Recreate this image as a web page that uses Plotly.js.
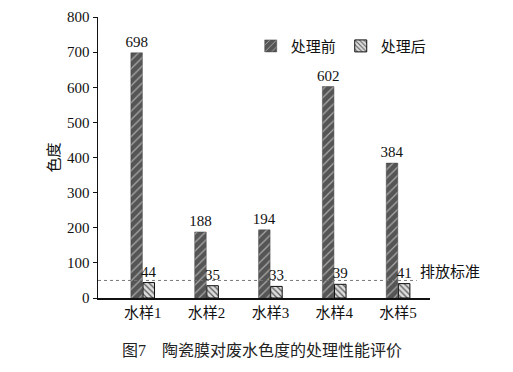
<!DOCTYPE html>
<html><head><meta charset="utf-8">
<script src="https://cdn.plot.ly/plotly-3.0.1.min.js"></script>
<style>body{margin:0;background:#fff}#c{width:513px;height:372px}</style>
</head><body><div id="c"></div>
<script>
const categories = ["水样1","水样2","水样3","水样4","水样5"];
const before = [698,188,194,602,384];
const after = [44,35,33,39,41];
const standard = 50;
const seriesNames = ["处理前","处理后"];
const F = "Liberation Serif, Times New Roman, Noto Sans CJK SC, serif";

const traces = [
  {type:'bar', name:seriesNames[0], x:categories, y:before, text:before.map(String),
   textposition:'outside', cliponaxis:false, constraintext:'none',
   textfont:{family:F,size:15,color:'#111'}, outsidetextfont:{family:F,size:15,color:'#111'},
   marker:{color:'#555', line:{color:'#444',width:0.5},
     pattern:{shape:'/', fgcolor:'#aaa', bgcolor:'#555', size:6, solidity:0.2}}},
  {type:'bar', name:seriesNames[1], x:categories, y:after, text:after.map(String),
   textposition:'outside', cliponaxis:false, constraintext:'none',
   textfont:{family:F,size:15,color:'#111'}, outsidetextfont:{family:F,size:15,color:'#111'},
   marker:{color:'#ccc', line:{color:'#111',width:1},
     pattern:{shape:'\\', fgcolor:'#555', bgcolor:'#ddd', size:4, solidity:0.3}}}
];
const layout = {
  width:513, height:372,
  margin:{l:98, r:83, t:17, b:74},
  paper_bgcolor:'#fff', plot_bgcolor:'#fff',
  showlegend:true,
  legend:{orientation:'h', x:0.46, y:0.955, xanchor:'left', yanchor:'top',
    font:{family:F,size:15,color:'#111'}, bgcolor:'rgba(0,0,0,0)', itemwidth:30, traceorder:'normal'},
  barmode:'group', bargap:0.62, bargroupgap:0.05,
  xaxis:{range:[-0.7,4.5], showline:true, linecolor:'#111', linewidth:1.5, ticks:'',
    tickfont:{family:F,size:15,color:'#111'}, showgrid:false, zeroline:false, fixedrange:true},
  yaxis:{range:[0,800], dtick:100, showline:true, linecolor:'#111', linewidth:1.5,
    ticks:'outside', ticklen:4, tickcolor:'#111', showgrid:false, zeroline:false,
    tickfont:{family:F,size:15,color:'#111'},
    title:{text:'色度', font:{family:F,size:15,color:'#111'}, standoff:4}},
  shapes:[{type:'line', xref:'paper', yref:'y', x0:0, x1:0.96, y0:standard, y1:standard,
    line:{color:'#777', width:1, dash:'dot'}}],
  annotations:[
    {xref:'paper', yref:'y', x:0.965, y:standard, xanchor:'left', yanchor:'bottom', yshift:-2,
     text:'排放标准', showarrow:false, font:{family:F,size:15,color:'#111'}},
    {xref:'paper', yref:'paper', x:0.494, y:-0.15, xanchor:'center', yanchor:'top',
     text:'图7　陶瓷膜对废水色度的处理性能评价', showarrow:false, font:{family:F,size:16,color:'#222'}}
  ]
};
Plotly.newPlot('c', traces, layout, {staticPlot:true, displayModeBar:false});
</script></body></html>
